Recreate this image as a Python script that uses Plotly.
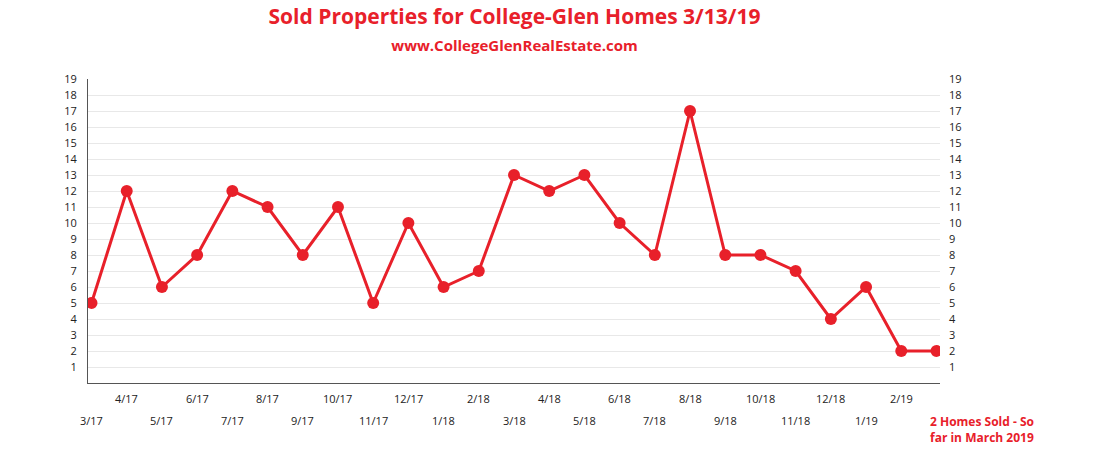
import plotly.graph_objects as go

months = ["3/17", "4/17", "5/17", "6/17", "7/17", "8/17", "9/17", "10/17", "11/17", "12/17",
          "1/18", "2/18", "3/18", "4/18", "5/18", "6/18", "7/18", "8/18", "9/18", "10/18",
          "11/18", "12/18", "1/19", "2/19", "<b>2 Homes Sold - So<br>far in March 2019</b>"]
sold = [5, 12, 6, 8, 12, 11, 8, 11, 5, 10, 6, 7, 13, 12, 13, 10, 8, 17, 8, 8, 7, 4, 6, 2, 2]
yticks = list(range(1, 20))

red = "#e8202a"
x = list(range(len(months)))

fig = go.Figure()
fig.add_trace(go.Scatter(x=x, y=sold, mode="lines+markers",
                         line=dict(color=red, width=3),
                         marker=dict(color=red, size=12), hoverinfo="y"))
fig.add_trace(go.Scatter(x=x, y=sold, yaxis="y2", mode="lines",
                         line=dict(width=0), showlegend=False, hoverinfo="skip"))

# staggered category labels
for i, m in enumerate(months):
    last = i == len(months) - 1
    fig.add_annotation(x=i, y=0, xref="x", yref="y", text=m, showarrow=False,
                       yanchor="top", yshift=-6 if i % 2 else -28,
                       xanchor="left" if last else "center", xshift=-8 if last else 0,
                       align="left",
                       font=dict(size=12 if last else 11,
                                 color=red if last else "#222",
                                 family="Open Sans"))

fig.update_layout(
    width=1094, height=452,
    margin=dict(l=80, r=162, t=71, b=77),
    paper_bgcolor="white", plot_bgcolor="white",
    showlegend=False,
    font=dict(family="Open Sans", color="#222", size=11),
    title=dict(text="<b>Sold Properties for College-Glen Homes 3/13/19</b><br>"
                    "<span style='font-size:15px'><b>www.CollegeGlenRealEstate.com</b></span>",
               x=0.463, xanchor="center", y=0.965, yanchor="top",
               font=dict(size=21, color=red, family="Open Sans")),
    xaxis=dict(range=[-0.1, 24.1], showticklabels=False, showgrid=False, zeroline=False,
               showline=True, linecolor="#555", linewidth=1),
    yaxis=dict(range=[0, 19], tickvals=yticks, showgrid=True, gridcolor="#e8e8e8",
               zeroline=False, showline=True, linecolor="#555", ticks="", ticklabelstandoff=8),
    yaxis2=dict(range=[0, 19], tickvals=yticks, overlaying="y", side="right",
                showgrid=False, zeroline=False, showline=False, ticklabelstandoff=8),
)

fig.write_html("out.html")
